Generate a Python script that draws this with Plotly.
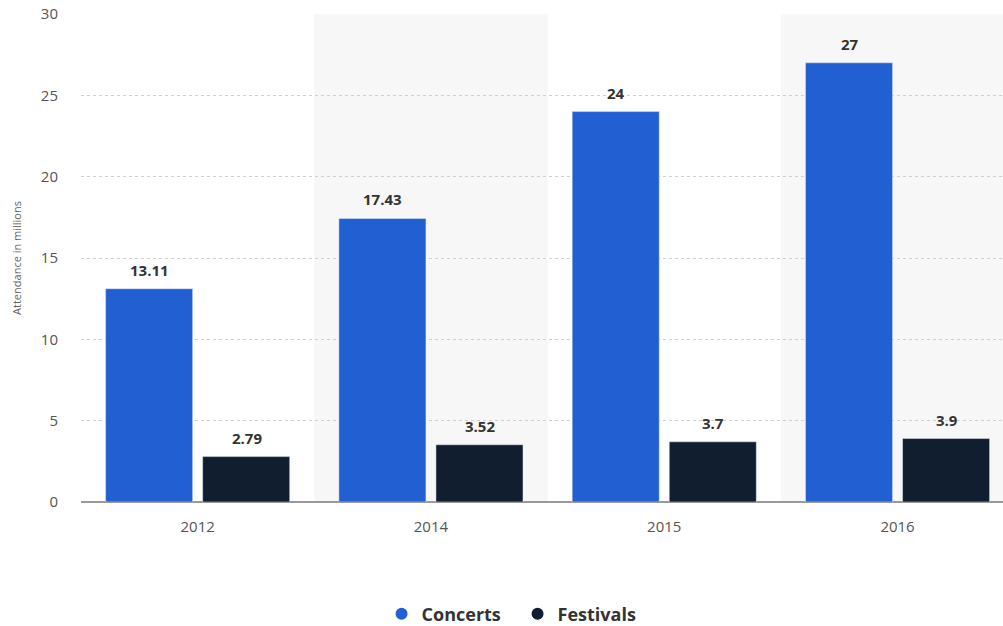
import plotly.graph_objects as go

years = ["2012", "2014", "2015", "2016"]
concerts = [13.11, 17.43, 24, 27]
festivals = [2.79, 3.52, 3.7, 3.9]
concert_labels = ["13.11", "17.43", "24", "27"]
festival_labels = ["2.79", "3.52", "3.7", "3.9"]

C_BLUE = "#215fd3"
C_DARK = "#101e30"

label_font = dict(family="Open Sans", size=15, color="#333333", weight="bold")

fig = go.Figure()
fig.add_trace(go.Bar(x=years, y=concerts, name="Concerts", marker_color=C_BLUE,
                     showlegend=False))
fig.add_trace(go.Bar(x=years, y=festivals, name="Festivals", marker_color=C_DARK,
                     showlegend=False))
# legend entries with round markers
fig.add_trace(go.Scatter(x=[None], y=[None], mode="markers", name="Concerts",
                         marker=dict(color=C_BLUE, size=15, symbol="circle")))
fig.add_trace(go.Scatter(x=[None], y=[None], mode="markers", name="Festivals",
                         marker=dict(color=C_DARK, size=15, symbol="circle")))

# value labels above bars (x given as category index)
annotations = []
for i, (v, t) in enumerate(zip(concerts, concert_labels)):
    annotations.append(dict(x=i, y=v, text=t, showarrow=False, xref="x", yref="y",
                            xshift=-48, yanchor="bottom", yshift=7, font=label_font))
for i, (v, t) in enumerate(zip(festivals, festival_labels)):
    annotations.append(dict(x=i, y=v, text=t, showarrow=False, xref="x", yref="y",
                            xshift=49, yanchor="bottom", yshift=7, font=label_font))

shapes = []
for i, y in enumerate(years):
    if i % 2 == 1:
        shapes.append(dict(type="rect", xref="x", yref="paper", x0=i - 0.5, x1=i + 0.5,
                           y0=0, y1=1, fillcolor="#f7f7f7", line_width=0, layer="below"))

fig.update_layout(
    width=1003, height=626,
    margin=dict(l=81, r=0, t=14, b=124, autoexpand=False),
    paper_bgcolor="white", plot_bgcolor="white",
    barmode="group", bargap=0.168, bargroupgap=0.103,
    shapes=shapes, annotations=annotations,
    font=dict(family="Open Sans", color="#555555"),
    legend=dict(orientation="h", x=0.516, xref="container", xanchor="center",
                y=0.019, yref="container", yanchor="middle",
                font=dict(size=18, color="#333333", family="Open Sans", weight="bold"),
                itemsizing="constant", traceorder="normal", entrywidth=91),
    xaxis=dict(type="category", range=[-0.5, 3.452], showgrid=False, automargin=False,
               tickfont=dict(size=15, color="#555555"), ticks="", showline=False,
               ticklabelstandoff=14),
    yaxis=dict(range=[0, 30], dtick=5, showgrid=True, gridcolor="#d0d0d0", automargin=False,
               griddash="dot", gridwidth=1, zeroline=True, zerolinecolor="#999999",
               zerolinewidth=2, tickfont=dict(size=15, color="#555555"),
               ticklabelstandoff=22,
               title=dict(text="Attendance in millions", font=dict(size=11, color="#666666"),
                          standoff=16)),
)

fig.write_html("out.html")
